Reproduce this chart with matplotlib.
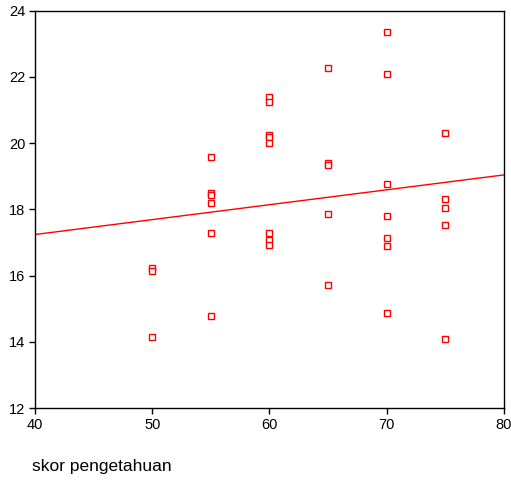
import numpy as np
import matplotlib.pyplot as plt

plt.rcParams["font.family"] = ["Liberation Sans", "DejaVu Sans"]

# skor pengetahuan (x) and response (y)
skor = [50, 50, 50,
        55, 55, 55, 55, 55, 55,
        60, 60, 60, 60, 60, 60, 60, 60,
        65, 65, 65, 65, 65,
        70, 70, 70, 70, 70, 70, 70,
        75, 75, 75, 75, 75]
nilai = [16.22, 16.15, 14.15,
         19.59, 18.5, 18.43, 18.2, 17.29, 14.79,
         21.4, 21.23, 20.25, 20.18, 19.99, 17.29, 17.07, 16.92,
         22.26, 19.41, 19.35, 17.85, 15.73,
         23.35, 22.08, 18.76, 17.81, 17.13, 16.89, 14.86,
         20.31, 18.32, 18.04, 17.53, 14.07]

# fitted line as drawn in the reference
fit_intercept = 15.44
fit_slope = 0.045

fig = plt.figure(figsize=(5.11, 4.82), dpi=100)
ax = fig.add_axes([0.0685, 0.1535, 0.9175, 0.8243])

ax.plot(skor, nilai, linestyle="none", marker="s", markersize=4.2,
        markerfacecolor="white", markeredgecolor="red", markeredgewidth=1.0)

xs = np.array([40, 80])
ax.plot(xs, fit_intercept + fit_slope * xs, color="red", linewidth=1.0)

ax.set_xlim(40, 80)
ax.set_ylim(12, 24)
ax.set_xticks([40, 50, 60, 70, 80])
ax.set_yticks([12, 14, 16, 18, 20, 22, 24])
ax.tick_params(direction="out", length=4, width=1, labelsize=10.5, pad=3)
for s in ax.spines.values():
    s.set_linewidth(1.0)

fig.text(32 / 511, 1 - 467 / 482, "skor pengetahuan", fontsize=12.5,
         ha="left", va="center")

fig.savefig("out.png", dpi=100)
